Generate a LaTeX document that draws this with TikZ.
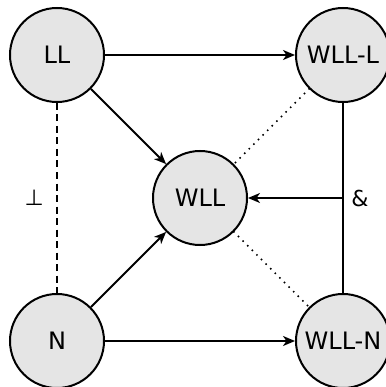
\documentclass[tikz,border=0pt]{standalone}
\usepackage{fontspec}
\setmainfont{DejaVu Sans}
\usetikzlibrary{arrows.meta}
\begin{document}
\begin{tikzpicture}[x=1pt,y=-1pt,
  state/.style={circle, draw, line width=2pt, fill=gray!20, minimum size=94pt, inner sep=0pt, font=\fontsize{24}{28}\selectfont},
  conn/.style={line width=1.9pt},
  arr/.style={conn, -{Stealth[length=12pt,width=10pt,inset=3.5pt]}},
  lbl/.style={font=\fontsize{22}{26}\selectfont}]
\useasboundingbox (0,0) rectangle (385,387);
\node[state] (LL)   at (57,55)   {LL};
\node[state] (WLLL) at (343,55)  {WLL-L};
\node[state] (WLL)  at (200,198) {WLL};
\node[state] (N)    at (57,341)  {N};
\node[state] (WLLN) at (343,341) {WLL-N};
\coordinate (J) at (343,198);
\draw[arr] (LL) -- (WLLL);
\draw[arr] (LL) -- (WLL);
\draw[arr] (N) -- (WLL);
\draw[arr] (N) -- (WLLN);
\draw[conn, dash pattern=on 7pt off 4.5pt] (LL) -- node[lbl, left=9pt] {⊥} (N);
\draw[conn] (WLLL) -- (WLLN);
\draw[arr] (J) -- node[pos=0, lbl, right=4pt] {\&} (WLL);
\draw[line width=2.2pt, line cap=round, dash pattern=on 0pt off 6.5pt] (WLLL) -- (WLL);
\draw[line width=2.2pt, line cap=round, dash pattern=on 0pt off 6.5pt] (WLL) -- (WLLN);
\end{tikzpicture}
\end{document}
